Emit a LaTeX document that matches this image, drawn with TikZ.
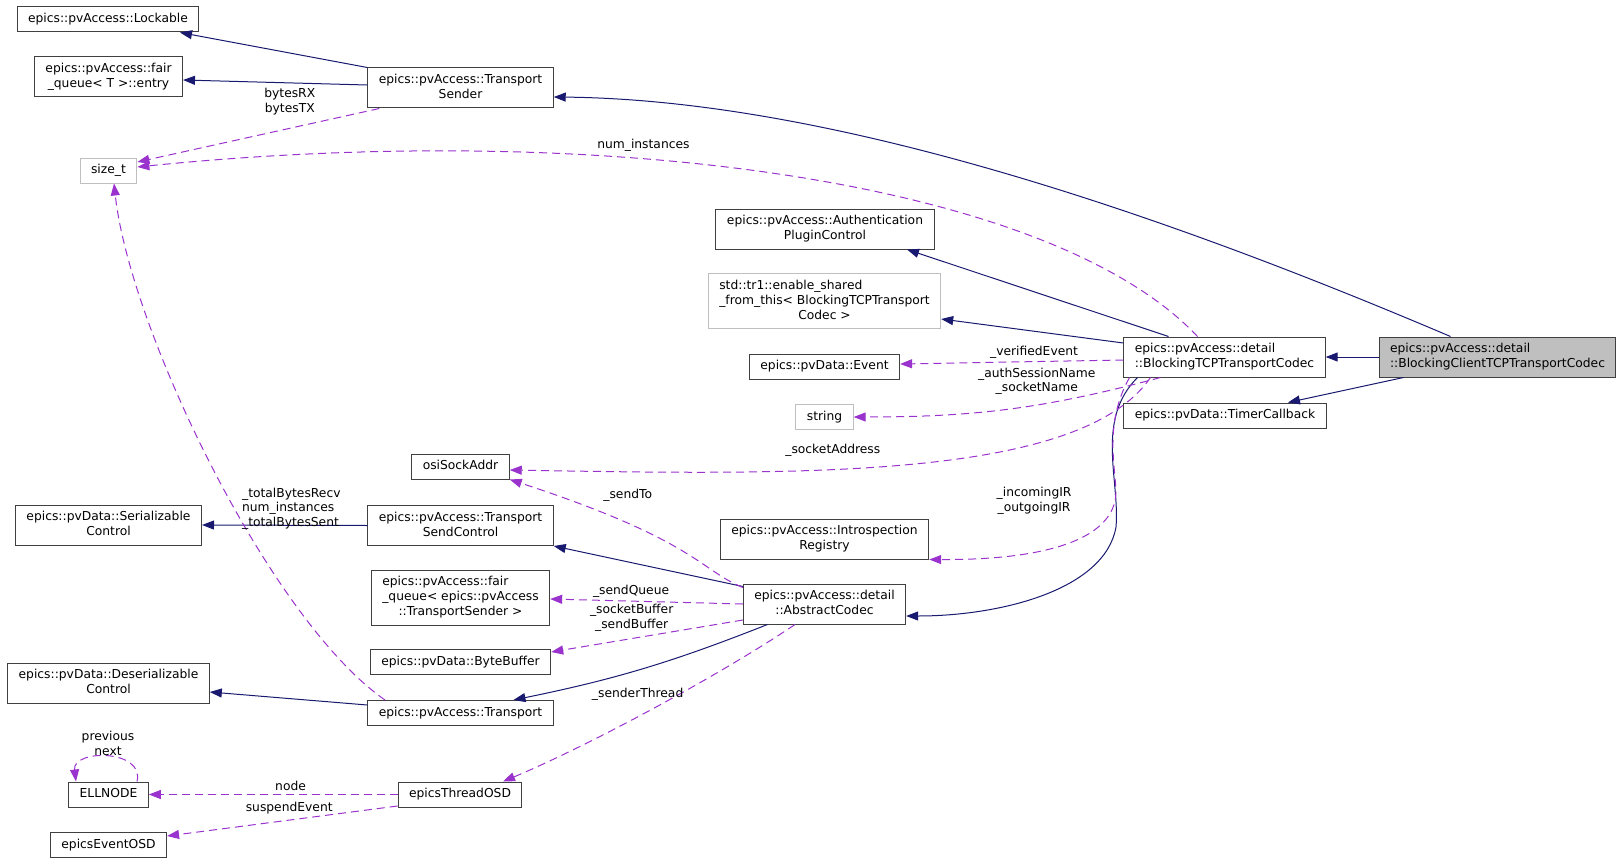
\documentclass[tikz,border=0pt]{standalone}
\usepackage{fontspec}
\setmainfont{DejaVu Sans}
\usepackage{tikz}
\usetikzlibrary{arrows.meta,shapes}
\definecolor{navy}{HTML}{191970}
\definecolor{orchid}{HTML}{9A32CD}
\tikzstyle{box}=[draw=black!75,rectangle,line width=1pt,inner xsep=11pt,inner ysep=5pt,font=\fontsize{12.3}{15}\selectfont]
\tikzstyle{box1}=[box,text height=10.5pt,text depth=4.5pt]
\tikzstyle{undoc}=[box,draw=gray!50]
\tikzstyle{undoc1}=[box1,draw=gray!50]
\tikzstyle{lab}=[font=\fontsize{12.3}{14.5}\selectfont,align=center,inner sep=1pt,text=black]
\tikzstyle{inh}=[>={Triangle[length=12pt,width=9pt]},draw,line width=1pt,navy]
\tikzstyle{use}=[>={Triangle[length=12pt,width=9pt]},draw,line width=1pt,orchid,dash pattern=on 8pt off 5pt]
% left lines, last line centred
\newcommand{\cname}[2]{\begin{tabular}{@{}l@{}}#1\\\multicolumn{1}{@{}c@{}}{#2}\end{tabular}}

\begin{document}
\begin{tikzpicture}[x=1pt,y=-1pt]
\useasboundingbox (0,0) rectangle (1624,864);

	% classes
	\node[box1] (lock) at (108,19.5) {epics::pvAccess::Lockable};
	\node[box] (entry) at (108.5,77) {\cname{epics::pvAccess::fair}{\_queue< T >::entry}};
	\node[box] (ts) at (460.5,88) {\cname{epics::pvAccess::Transport}{Sender}};
	\node[undoc1] (sizet) at (108.5,170.5) {size\_t};
	\node[box] (auth) at (825,229) {\cname{epics::pvAccess::Authentication}{PluginControl}};
	\node[undoc] (shared) at (824.5,301) {\cname{std::tr1::enable\_shared\\\_from\_this< BlockingTCPTransport}{Codec >}};
	\node[box1] (event) at (824.5,366.5) {epics::pvData::Event};
	\node[undoc1] (str) at (824.5,417) {string};
	\node[box1] (osi) at (460.5,466.5) {osiSockAddr};
	\node[box] (btcp) at (1224.5,357) {\cname{epics::pvAccess::detail}{::BlockingTCPTransportCodec}};
	\node[box,fill=gray!50] (bc) at (1497.5,357) {\cname{epics::pvAccess::detail}{::BlockingClientTCPTransportCodec}};
	\node[box1] (timer) at (1225,415.5) {epics::pvData::TimerCallback};
	\node[box] (ser) at (108.5,525) {\cname{epics::pvData::Serializable}{Control}};
	\node[box] (tsc) at (460.5,525.5) {\cname{epics::pvAccess::Transport}{SendControl}};
	\node[box] (intro) at (824.5,539) {\cname{epics::pvAccess::Introspection}{Registry}};
	\node[box] (fq) at (460.5,597.5) {\cname{epics::pvAccess::fair\\\_queue< epics::pvAccess}{::TransportSender >}};
	\node[box] (ac) at (824.5,604) {\cname{epics::pvAccess::detail}{::AbstractCodec}};
	\node[box1] (bb) at (460.5,662) {epics::pvData::ByteBuffer};
	\node[box] (deser) at (108.5,683) {\cname{epics::pvData::Deserializable}{Control}};
	\node[box1] (tr) at (460.5,713) {epics::pvAccess::Transport};
	\node[box1] (ell) at (108.5,794.5) {ELLNODE};
	\node[box1] (eto) at (460,794.5) {epicsThreadOSD};
	\node[box1] (evt) at (108.5,845) {epicsEventOSD};

	% inheritance
	\path[inh,->] (ts.north west) -- ([xshift=72]lock.south);
	\path[inh,->] ([yshift=3]ts.west) -- ([yshift=-3]entry.east);
	\path[inh,->] ([xshift=-47]bc.north) .. controls (1200,230) and (850,100) .. ([yshift=-9]ts.east);
	\path[inh,->] (bc.west) -- (btcp.east);
	\path[inh,->] ([xshift=-94]bc.south) -- ([xshift=63]timer.north);
	\path[inh,->] ([xshift=-56]btcp.north) -- ([xshift=82]auth.south);
	\path[inh,->] ([yshift=14]btcp.west) -- ([yshift=-18]shared.east);
	\path[inh,->] ([xshift=-87]btcp.south) .. controls (1095,420) and (1120,480) .. (1116,527)
		.. controls (1105,590) and (1000,616) .. ([yshift=-12]ac.east);
	\path[inh,->] (tsc.west) -- (ser.east);
	\path[inh,->] ([yshift=-3]ac.north west) -- (tsc.south east);
	\path[inh,->] ([xshift=-57]ac.south) to[bend left=5] ([xshift=53]tr.north);
	\path[inh,->] ([yshift=8]tr.west) -- ([yshift=-9]deser.east);

	% members
	\path[use,->] ([xshift=12]ts.south west) -- node[lab,pos=.37,above=12pt] {bytesRX\\bytesTX} ([yshift=8.5]sizet.east);
	\path[use,->] ([xshift=-27]btcp.north) .. controls (1050,180) and (600,120) .. ([yshift=3.5]sizet.east)
		node[lab,pos=.62,above=6pt] {num\_instances};
	\path[use,->] ([xshift=-75.5]tr.north) .. controls (270,620) and (130,330) .. ([xshift=5.5]sizet.south)
		node[lab,pos=.43,right=6pt,align=left] {\_totalBytesRecv\\num\_instances\\\_totalBytesSent};
	\path[use,->] ([yshift=-3]btcp.west) -- node[lab,pos=.4,above=2pt] {\_verifiedEvent} ([yshift=2.5]event.east);
	\path[use,->] ([xshift=-64]btcp.south) to[out=195,in=0] node[lab,pos=.4,above=9pt] {\_authSessionName\\\_socketName} (str.east);
	\path[use,->] ([xshift=-74]btcp.south) .. controls (1080,480) and (800,475) .. ([yshift=-3.5]osi.east)
		node[lab,pos=.61,above=11.5pt] {\_socketAddress};
	\path[use,->] ([xshift=-95]btcp.south) .. controls (1100,430) and (1120,480) .. (1115,501)
		node[lab,left=42pt] {\_incomingIR\\\_outgoingIR}
		.. controls (1105,545) and (1030,560) .. (intro.south east);
	\path[use,->] ([yshift=-4]ac.north west) .. controls (700,570) and (695,540) .. (osi.south east)
		node[lab,pos=.72,above=21pt] {\_sendTo};
	\path[use,->] (ac.west) -- node[lab,pos=.58,above=2pt] {\_sendQueue} ([yshift=-1.5]fq.east);
	\path[use,->] ([yshift=-16]ac.west) -- node[lab,pos=.58,above=6pt] {\_socketBuffer\\\_sendBuffer} ([yshift=10]bb.east);
	\path[use,->] ([xshift=-29.5]ac.south) .. controls (720,675) and (590,745) .. ([xshift=43]eto.north)
		node[lab,pos=.55,above=15pt] {\_senderThread};
	\path[use,->] (eto.west) -- node[lab,pos=.43,above=2.5pt] {node} (ell.east);
	\path[use,->] ([yshift=-11.5]eto.west) -- node[lab,pos=.47,above=4.5pt] {suspendEvent} ([yshift=9]evt.east);
	\path[use,->] ([xshift=28.5]ell.north) .. controls (145,749) and (72,749) .. ([xshift=-32.5]ell.north)
		node[lab,pos=.5,above=0pt] {previous\\next};
\end{tikzpicture}
\end{document}
